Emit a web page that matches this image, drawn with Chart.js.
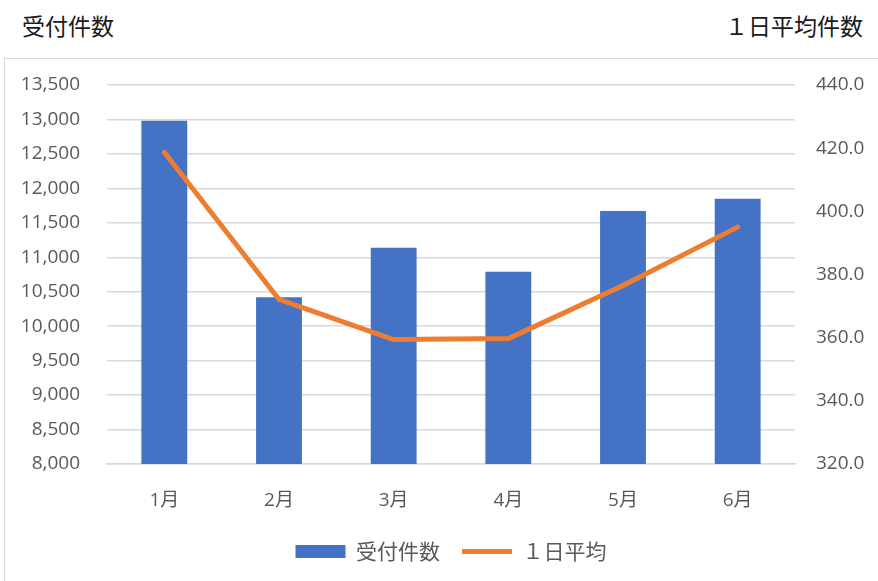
<!DOCTYPE html>
<html>
<head>
<meta charset="utf-8">
<script src="https://cdn.jsdelivr.net/npm/chart.js@4"></script>
<style>
  body { margin: 0; background: #fff; }
  #wrap { position: relative; width: 878px; height: 581px; overflow: hidden; }
  .title { position: absolute; top: 8px; font: 23px "Noto Sans CJK JP", sans-serif; color: #1a1a1a; }
  #frame { position: absolute; left: 4px; top: 58px; width: 900px; height: 600px; border: 1px solid #d9d9d9; box-sizing: border-box; }
  canvas { position: absolute; left: 0; top: 0; }
</style>
</head>
<body>
<div id="wrap">
  <div class="title" style="left:22px">受付件数</div>
  <div class="title" style="right:15px">１日平均件数</div>
  <div id="frame"></div>
  <canvas id="chart" width="878" height="581"></canvas>
</div>
<script>
// months and values
const months = ['1月', '2月', '3月', '4月', '5月', '6月'];
const counts = [12980, 10420, 11140, 10790, 11670, 11850];
const dailyAvg = [418.7, 372.1, 359.4, 359.7, 376.5, 395.0];

const tickFont = { family: '"Open Sans", "Noto Sans CJK JP", sans-serif', size: 19 };

const ctx = document.getElementById('chart').getContext('2d');
new Chart(ctx, {
  data: {
    labels: months,
    datasets: [
      {
        type: 'line',
        label: '１日平均',
        data: dailyAvg,
        yAxisID: 'y1',
        borderColor: '#ED7D31',
        backgroundColor: '#ED7D31',
        borderWidth: 5,
        borderCapStyle: 'round',
        borderJoinStyle: 'round',
        pointRadius: 0,
        pointStyle: 'line',
        tension: 0,
        order: 1
      },
      {
        type: 'bar',
        label: '受付件数',
        data: counts,
        yAxisID: 'y',
        backgroundColor: '#4472C4',
        barPercentage: 0.4,
        categoryPercentage: 1,
        pointStyle: 'rect',
        order: 2
      }
    ]
  },
  options: {
    responsive: false,
    animation: false,
    layout: { padding: { top: 85, bottom: 9, left: 0, right: 0 } },
    plugins: {
      tooltip: { enabled: false },
      legend: {
        position: 'bottom',
        fullSize: false,
        reverse: true,
        labels: {
          usePointStyle: true,
          pointStyleWidth: 50,
          boxHeight: 13,
          padding: 22,
          color: '#595959',
          font: { family: '"Noto Sans CJK JP", sans-serif', size: 21 }
        }
      }
    },
    scales: {
      x: {
        grid: { display: false },
        border: { display: true, color: '#d9d9d9', width: 1.5 },
        ticks: { color: '#595959', font: tickFont, padding: 17 },
        afterFit: s => { s.height = 55; }
      },
      y: {
        position: 'left',
        min: 8000,
        max: 13500,
        ticks: {
          stepSize: 500,
          color: '#595959',
          font: tickFont,
          padding: 27,
          callback: v => v.toLocaleString('en-US')
        },
        grid: { color: '#d9d9d9', lineWidth: 1.5, drawTicks: false },
        border: { display: false },
        afterFit: s => { s.width = 107; }
      },
      y1: {
        position: 'right',
        min: 320,
        max: 440,
        ticks: {
          stepSize: 20,
          color: '#595959',
          font: tickFont,
          padding: 21,
          callback: v => v.toFixed(1)
        },
        grid: { display: false, drawTicks: false },
        border: { display: false },
        afterFit: s => { s.width = 83; }
      }
    }
  }
});
</script>
</body>
</html>
